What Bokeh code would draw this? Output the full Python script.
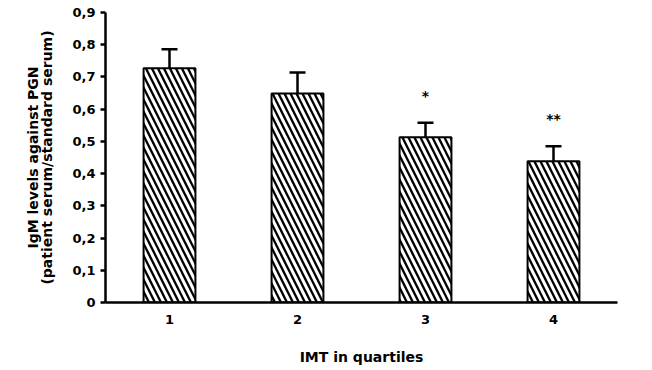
from bokeh.plotting import figure
from bokeh.models import Range1d, FixedTicker, CustomJSTickFormatter, Whisker, TeeHead, ColumnDataSource
from bokeh.core.properties import value
from bokeh.embed import file_html
from bokeh.resources import INLINE

# ---- data ----
quartiles = [1, 2, 3, 4]
quartile_labels = ["1", "2", "3", "4"]
igm_means = [0.727, 0.649, 0.513, 0.438]
igm_sem = [0.059, 0.065, 0.045, 0.047]
significance = ["", "", "*", "**"]
y_ticks = [0.0, 0.1, 0.2, 0.3, 0.4, 0.5, 0.6, 0.7, 0.8, 0.9]
y_tick_labels = ["0", "0,1", "0,2", "0,3", "0,4", "0,5", "0,6", "0,7", "0,8", "0,9"]

FONT = "DejaVu Sans"

upper = [m + s for m, s in zip(igm_means, igm_sem)]
src = ColumnDataSource(dict(x=quartiles, top=igm_means, upper=upper, sig=significance))

p = figure(width=640, height=368, output_backend="svg", toolbar_location=None,
           x_range=Range1d(0.5, 4.5), y_range=Range1d(0, 0.9),
           min_border_left=105, min_border_right=23, min_border_top=12, min_border_bottom=66)
p.outline_line_color = None
p.xgrid.grid_line_color = None
p.ygrid.grid_line_color = None
p.background_fill_color = "white"
p.border_fill_color = "white"

p.vbar(x="x", top="top", bottom=0, width=0.405, source=src,
       fill_color="white", line_color="black", line_width=2,
       hatch_pattern="left_diagonal_line", hatch_color="black",
       hatch_scale=12, hatch_weight=2.3)

w = Whisker(base="x", lower="top", upper="upper", source=src, dimension="height",
            line_color="black", line_width=2.5,
            upper_head=TeeHead(size=16, line_width=2.5, line_color="black"),
            lower_head=None)
p.add_layout(w)

p.text(x="x", y="upper", text="sig", source=src, text_align="center",
       text_baseline="middle", y_offset=-27, text_font=value(FONT),
       text_font_style="bold", text_font_size="14px", text_color="black")

# y axis
yax = p.yaxis[0]
yax.ticker = FixedTicker(ticks=y_ticks)
yax.formatter = CustomJSTickFormatter(args=dict(tvals=y_ticks, tlabels=y_tick_labels), code="""
let best = 0;
for (let i = 0; i < tvals.length; i++) {
  if (Math.abs(tvals[i] - tick) < Math.abs(tvals[best] - tick)) best = i;
}
return tlabels[best];
""")
yax.axis_line_width = 2.5
yax.major_tick_line_width = 2.5
yax.major_tick_out = 5
yax.major_tick_in = 0
yax.minor_tick_line_color = None
yax.major_label_standoff = 5
yax.major_label_text_font = FONT
yax.major_label_text_font_style = "bold"
yax.major_label_text_font_size = "13px"
yax.major_label_text_color = "black"
yax.axis_label = "IgM levels against PGN\n(patient serum/standard serum)"
yax.axis_label_text_font = FONT
yax.axis_label_text_font_style = "bold"
yax.axis_label_text_font_size = "14px"
yax.axis_label_text_line_height = 0.9
yax.axis_label_text_color = "black"
yax.axis_label_standoff = 14

# x axis
xax = p.xaxis[0]
xax.ticker = FixedTicker(ticks=quartiles)
xax.major_label_overrides = {q: l for q, l in zip(quartiles, quartile_labels)}
xax.axis_line_width = 2.5
xax.major_tick_line_color = None
xax.minor_tick_line_color = None
xax.major_label_standoff = 6
xax.major_label_text_font = FONT
xax.major_label_text_font_style = "bold"
xax.major_label_text_font_size = "13px"
xax.major_label_text_color = "black"
xax.axis_label = "IMT in quartiles"
xax.axis_label_text_font = FONT
xax.axis_label_text_font_style = "bold"
xax.axis_label_text_font_size = "14px"
xax.axis_label_text_color = "black"
xax.axis_label_standoff = 22

open("out.html", "w").write(file_html(p, INLINE))
